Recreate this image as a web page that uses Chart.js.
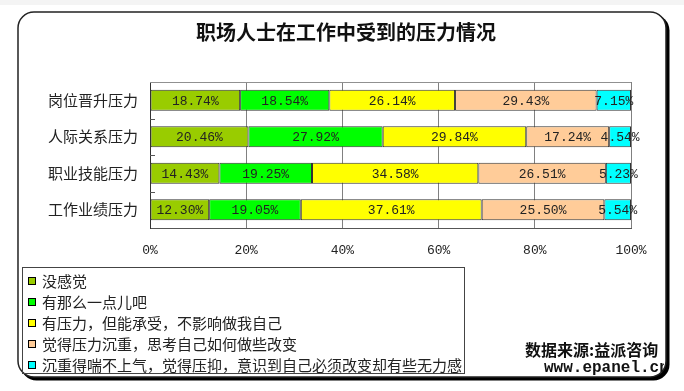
<!DOCTYPE html>
<html lang="zh">
<head>
    <meta charset="UTF-8">
    <title>职场人士在工作中受到的压力情况</title>
    <script src="https://cdn.jsdelivr.net/npm/chart.js"></script>
    <style>
        body { margin: 0; background: #fff; }
        #wrap { position: relative; width: 684px; height: 391px; overflow: hidden; }
        #myChart { position: absolute; left: 0; top: 0; }
        #title {
            position: absolute; left: 0; width: 692px; top: 19px; text-align: center;
            font: bold 20px "Noto Sans CJK SC", sans-serif; color: #111; line-height: 26px;
        }
        #legend {
            position: absolute; left: 22px; top: 267px; width: 443px; height: 107px;
            border: 1px solid #444; box-sizing: border-box; padding-top: 2px;
            font: 15px "Noto Sans CJK SC", sans-serif; color: #222;
        }
        .item { height: 21px; line-height: 21px; white-space: nowrap; position: relative; padding-left: 19px; }
        .box { position: absolute; left: 5px; top: 7px; width: 8px; height: 8px; border: 1px solid #000; box-sizing: border-box; }
        #source {
            position: absolute; left: 525px; top: 339px; width: 139px; overflow: hidden;
            white-space: nowrap; color: #111;
        }
        #source .l1 { font: bold 16px "Noto Sans CJK SC", sans-serif; line-height: 20px; }
        #source .l2 { font: bold 16px "Liberation Mono", monospace; line-height: 18px; padding-left: 19px; }
    </style>
</head>
<body>
<div id="wrap">
    <canvas id="myChart" width="684" height="391"></canvas>
    <div id="title">职场人士在工作中受到的压力情况</div>
    <div id="legend"></div>
    <div id="source"><div class="l1">数据来源:益派咨询</div><div class="l2">www.epanel.cn</div></div>
</div>

<script>
    const categories = ['岗位晋升压力', '人际关系压力', '职业技能压力', '工作业绩压力'];
    const seriesNames = [
        '没感觉',
        '有那么一点儿吧',
        '有压力，但能承受，不影响做我自己',
        '觉得压力沉重，思考自己如何做些改变',
        '沉重得喘不上气，觉得压抑，意识到自己必须改变却有些无力感'
    ];
    const noFeeling = [18.74, 20.46, 14.43, 12.30];
    const aLittle = [18.54, 27.92, 19.25, 19.05];
    const bearable = [26.14, 29.84, 34.58, 37.61];
    const heavy = [29.43, 17.24, 26.51, 25.50];
    const crushing = [7.15, 4.54, 5.23, 5.54];
    const seriesColors = ['#99CC00', '#00FF00', '#FFFF00', '#FFCC99', '#00FFFF'];
    const xTicks = [0, 20, 40, 60, 80, 100];

    const seriesValues = [noFeeling, aLittle, bearable, heavy, crushing];

    // legend built from the same arrays
    const legend = document.getElementById('legend');
    seriesNames.forEach((name, i) => {
        const row = document.createElement('div');
        row.className = 'item';
        row.innerHTML = '<span class="box" style="background:' + seriesColors[i] + '"></span>' + name;
        legend.appendChild(row);
    });

    // frame with rounded corners and shadow
    const framePlugin = {
        id: 'frame',
        beforeDraw(chart) {
            const ctx = chart.ctx;
            ctx.save();
            ctx.fillStyle = '#f4f4f4';
            ctx.fillRect(0, 0, 684, 5);
            ctx.fillStyle = '#000';
            ctx.beginPath();
            ctx.roundRect(20.5, 14.5, 649, 366, 16);
            ctx.fill();
            ctx.fillStyle = '#fff';
            ctx.strokeStyle = '#222';
            ctx.lineWidth = 1.5;
            ctx.beginPath();
            ctx.roundRect(18, 12, 648, 365, 16);
            ctx.fill();
            ctx.stroke();
            ctx.restore();
        }
    };

    // plot border, small category ticks and value labels
    const plotPlugin = {
        id: 'plotExtras',
        beforeDatasetsDraw(chart) {
            const ctx = chart.ctx;
            const a = chart.chartArea;
            const y = chart.scales.y;
            ctx.save();
            ctx.strokeStyle = '#909090';
            ctx.lineWidth = 1;
            ctx.beginPath();
            ctx.moveTo(a.left, a.top + 0.5);
            ctx.lineTo(a.right, a.top + 0.5);
            ctx.stroke();
            ctx.strokeStyle = '#555';
            ctx.beginPath();
            for (let i = 1; i < categories.length; i++) {
                const py = Math.round((y.getPixelForValue(i - 1) + y.getPixelForValue(i)) / 2) + 0.5;
                ctx.moveTo(a.left, py);
                ctx.lineTo(a.left + 5, py);
            }
            ctx.stroke();
            ctx.restore();
        },
        afterDatasetsDraw(chart) {
            const ctx = chart.ctx;
            ctx.save();
            ctx.font = '13px "Liberation Mono", monospace';
            ctx.fillStyle = '#222';
            ctx.textAlign = 'center';
            ctx.textBaseline = 'middle';
            chart.data.datasets.forEach((ds, di) => {
                chart.getDatasetMeta(di).data.forEach((bar, i) => {
                    const c = bar.getCenterPoint();
                    ctx.fillText(ds.data[i].toFixed(2) + '%', c.x, c.y + 1);
                });
            });
            ctx.restore();
        }
    };

    const ctx = document.getElementById('myChart').getContext('2d');
    new Chart(ctx, {
        type: 'bar',
        data: {
            labels: categories,
            datasets: seriesValues.map((vals, i) => ({
                label: seriesNames[i],
                data: vals,
                backgroundColor: seriesColors[i],
                borderColor: '#333',
                borderWidth: 1,
                borderSkipped: false,
                barPercentage: 0.58,
                categoryPercentage: 1
            }))
        },
        options: {
            indexAxis: 'y',
            responsive: false,
            animation: false,
            layout: { padding: { top: 82, right: 53, bottom: 133, left: 0 } },
            plugins: {
                legend: { display: false },
                title: { display: false },
                tooltip: { enabled: false }
            },
            scales: {
                x: {
                    stacked: true,
                    min: 0,
                    max: 100,
                    afterBuildTicks(scale) {
                        scale.ticks = xTicks.map(v => ({ value: v }));
                    },
                    afterFit(scale) { scale.height = 30; },
                    grid: { color: '#808080', drawTicks: false },
                    border: { color: '#555' },
                    ticks: {
                        padding: 15,
                        color: '#222',
                        font: { family: 'Liberation Mono', size: 13 },
                        callback: v => v + '%'
                    }
                },
                y: {
                    stacked: true,
                    afterFit(scale) { scale.width = 150; },
                    grid: { display: false, drawTicks: false },
                    border: { color: '#333' },
                    ticks: {
                        padding: 12,
                        color: '#222',
                        font: { family: 'Noto Sans CJK SC', size: 15 }
                    }
                }
            }
        },
        plugins: [framePlugin, plotPlugin]
    });
</script>
</body>
</html>
